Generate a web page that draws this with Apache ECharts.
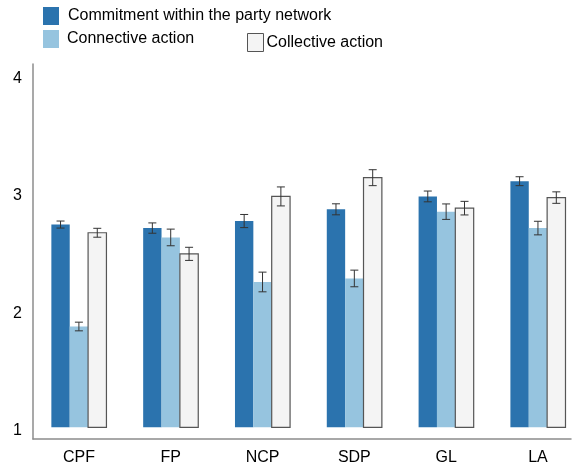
<!DOCTYPE html>
<html>
<head>
<meta charset="utf-8">
<script src="https://cdn.jsdelivr.net/npm/echarts@6/dist/echarts.min.js"></script>
<style>
  html, body { margin: 0; padding: 0; background: #ffffff; }
  #chart { width: 574px; height: 468px; }
</style>
</head>
<body>
<div id="chart"></div>
<script>
// Party groups on the x axis
const categories = ['CPF', 'FP', 'NCP', 'SDP', 'GL', 'LA'];

// Mean scores per group
const commitment = [2.73, 2.70, 2.76, 2.86, 2.97, 3.10];
const connective = [1.86, 2.62, 2.24, 2.27, 2.84, 2.70];
const collective = [2.66, 2.48, 2.97, 3.13, 2.87, 2.96];

// Half-widths of the error bars
const commitmentErr = [0.030, 0.044, 0.056, 0.047, 0.046, 0.038];
const connectiveErr = [0.037, 0.071, 0.084, 0.071, 0.066, 0.058];
const collectiveErr = [0.038, 0.056, 0.081, 0.068, 0.058, 0.049];

// Y axis tick labels
const yTickLabels = [1, 2, 3, 4];

const seriesNames = ['Commitment within the party network', 'Connective action', 'Collective action'];
const fills = ['#2b73ae', '#96c4df', '#f4f4f4'];
const strokes = [null, null, '#555555'];
const BASE = 1; // bars rise from the scale's floor value

function makeSeries(idx, values, errs) {
  return {
    name: seriesNames[idx],
    type: 'custom',
    itemStyle: { color: fills[idx] },
    encode: { x: 0, y: 1 },
    data: values.map((v, i) => [i, v, errs[i]]),
    renderItem: function (params, api) {
      const cat = api.value(0);
      const val = api.value(1);
      const err = api.value(2);
      const band = api.size([1, 0])[0];
      const bw = band * 0.2;
      const top = api.coord([cat, val]);
      const base = api.coord([cat, BASE]);
      const x0 = top[0] + (idx - 1.5) * bw;
      const cx = x0 + bw / 2;
      const hi = api.coord([cat, val + err])[1];
      const lo = api.coord([cat, val - err])[1];
      const cap = 4;
      const errStyle = { stroke: '#333333', lineWidth: 1 };
      return {
        type: 'group',
        children: [
          {
            type: 'rect',
            shape: { x: x0, y: top[1], width: bw, height: base[1] - top[1] },
            style: strokes[idx]
              ? { fill: fills[idx], stroke: strokes[idx], lineWidth: 1.2 }
              : { fill: fills[idx] }
          },
          { type: 'line', shape: { x1: cx, y1: hi, x2: cx, y2: lo }, style: errStyle },
          { type: 'line', shape: { x1: cx - cap, y1: hi, x2: cx + cap, y2: hi }, style: errStyle },
          { type: 'line', shape: { x1: cx - cap, y1: lo, x2: cx + cap, y2: lo }, style: errStyle }
        ]
      };
    }
  };
}

const font = "'Liberation Sans', Arial, Helvetica, sans-serif";

function legendFor(idx, left, top, textPad) {
  return {
    left: left,
    top: top,
    padding: 0,
    itemWidth: 16,
    itemHeight: 18,
    selectedMode: false,
    textStyle: { fontSize: 16, color: '#000', fontFamily: font, padding: textPad },
    data: [{
      name: seriesNames[idx],
      icon: 'rect',
      itemStyle: strokes[idx]
        ? { color: fills[idx], borderColor: strokes[idx], borderWidth: 1 }
        : { color: fills[idx] }
    }]
  };
}

function integerLabel(v) {
  const r = Math.round(v);
  return Math.abs(v - r) < 1e-6 ? r : null;
}

const chart = echarts.init(document.getElementById('chart'), null, { renderer: 'canvas' });
chart.setOption({
  animation: false,
  backgroundColor: '#ffffff',
  legend: [
    legendFor(0, 43, 7, [0, 0, 0, 4]),
    legendFor(1, 43, 30, [0, 0, 0, 3]),
    legendFor(2, 247, 33, [0, 0, 0, -2])
  ],
  grid: { left: 33, right: 0, top: 64, height: 375 },
  // group index axis: each party sits on an integer, the last band runs off the right edge
  xAxis: {
    type: 'value',
    min: -0.5,
    max: 5.36,
    interval: 0.5,
    splitLine: { show: false },
    axisLine: { show: true, onZero: false, lineStyle: { color: '#8c8c8c', width: 1.5 } },
    axisTick: { show: false },
    axisLabel: {
      fontSize: 16, color: '#000', fontFamily: font, margin: 11,
      showMinLabel: true, showMaxLabel: true,
      formatter: function (v) {
        const r = integerLabel(v);
        return (r !== null && r >= 0 && r < categories.length) ? categories[r] : '';
      }
    }
  },
  yAxis: {
    type: 'value',
    min: 0.9,
    max: 4.1,
    interval: 0.1,
    splitLine: { show: false },
    axisTick: { show: false },
    axisLine: { show: true, onZero: false, lineStyle: { color: '#8c8c8c', width: 1.5 } },
    axisLabel: {
      fontSize: 16,
      color: '#000',
      fontFamily: font,
      margin: 11,
      verticalAlign: 'top',
      lineHeight: 6,
      formatter: function (v) {
        const r = integerLabel(v);
        return (r !== null && yTickLabels.indexOf(r) >= 0) ? String(r) : '';
      }
    }
  },
  series: [
    makeSeries(0, commitment, commitmentErr),
    makeSeries(1, connective, connectiveErr),
    makeSeries(2, collective, collectiveErr)
  ]
});
</script>
</body>
</html>
